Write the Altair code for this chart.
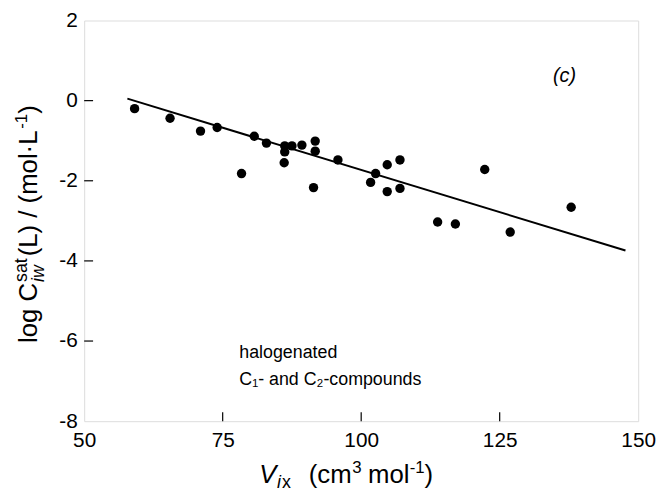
import altair as alt
import pandas as pd

# --- data ---
vix = [59.1, 65.5, 71.0, 74.0, 78.4, 80.7, 82.9, 86.2, 86.2, 87.5, 89.3, 91.7, 91.7,
       86.1, 91.4, 95.8, 104.7, 107.0, 102.6, 101.7, 104.7, 107.0, 113.8, 117.0,
       122.3, 126.9, 137.9]
logc = [-0.20, -0.44, -0.76, -0.67, -1.82, -0.89, -1.06, -1.13, -1.28, -1.13, -1.11,
        -1.01, -1.26, -1.55, -2.17, -1.48, -1.60, -1.48, -1.82, -2.04, -2.27, -2.19,
        -3.03, -3.08, -1.72, -3.28, -2.66]
fit_x = [57.8, 147.7]
fit_y = [0.05, -3.74]
x_ticks = [75, 100, 125]
y_ticks = [0, -2, -4, -6]
x_labels = [50, 75, 100, 125, 150]
y_labels = [2, 0, -2, -4, -6, -8]
notes = ["halogenated", "C\u2081- and C\u2082-compounds"]
note_x = [78, 78]
note_y = [-6.31, -6.97]
panel_label = "(c)"
panel_x = [136.7]
panel_y = [0.62]

W, H = 560, 405
FONT = "Liberation Sans"
FS = 21

pts = pd.DataFrame({"x": vix, "y": logc})
fit = pd.DataFrame({"x": fit_x, "y": fit_y})
xt = pd.DataFrame({"x": x_ticks})
yt = pd.DataFrame({"y": y_ticks})
nt = pd.DataFrame({"x": note_x, "y": note_y, "t": notes})
pl = pd.DataFrame({"x": panel_x, "y": panel_y, "t": [panel_label]})

xs = alt.Scale(domain=[50, 150], nice=False, zero=False)
ys = alt.Scale(domain=[-8, 2], nice=False, zero=False)

xax = alt.Axis(values=x_labels, ticks=False, domain=False, grid=False, title=None,
               labelFont=FONT, labelFontSize=FS, labelColor="black", labelPadding=9,
               labelFlush=False, labelExpr="'' + datum.value")
yax = alt.Axis(values=y_labels, ticks=False, domain=False, grid=False, title=None,
               labelFont=FONT, labelFontSize=FS, labelColor="black", labelPadding=7,
               labelExpr="'' + datum.value")

points = alt.Chart(pts).mark_circle(size=90, color="black", opacity=1).encode(
    x=alt.X("x:Q", scale=xs, axis=xax),
    y=alt.Y("y:Q", scale=ys, axis=yax),
)
line = alt.Chart(fit).mark_line(color="black", strokeWidth=2).encode(
    x=alt.X("x:Q", scale=xs), y=alt.Y("y:Q", scale=ys))

xtick = alt.Chart(xt).mark_rule(color="black", strokeWidth=1.2).encode(
    x=alt.X("x:Q", scale=xs), y=alt.value(H), y2=alt.value(H - 9))
ytick = alt.Chart(yt).mark_rule(color="black", strokeWidth=1.2).encode(
    y=alt.Y("y:Q", scale=ys), x=alt.value(0), x2=alt.value(9))

notes_l = alt.Chart(nt).mark_text(align="left", baseline="middle", font=FONT,
                                  fontSize=18, color="black").encode(
    x=alt.X("x:Q", scale=xs), y=alt.Y("y:Q", scale=ys), text="t:N")
panel = alt.Chart(pl).mark_text(align="center", baseline="middle", font=FONT,
                                fontSize=20, fontStyle="italic", color="black").encode(
    x=alt.X("x:Q", scale=xs), y=alt.Y("y:Q", scale=ys), text="t:N")


def tx(text, x, y, size=FS, style="normal", angle=0, align="left"):
    return alt.Chart(pd.DataFrame({"t": [text]})).mark_text(
        align=align, baseline="alphabetic", font=FONT, fontSize=size,
        fontStyle=style, angle=angle, color="black").encode(
        x=alt.value(x), y=alt.value(y), text="t:N")


# y-axis title, rotated, composed of pieces (reading bottom to top)
TF = 26
SF = 18
bx = -48
cur = 326
parts = []
parts.append(tx("log C", bx, cur, TF, angle=270)); cur -= TF * 2.334 + 1
parts.append(tx("iw", bx + 7, cur, SF, "italic", angle=270))
parts.append(tx("sat", bx - 10, cur, SF, angle=270)); cur -= SF * 1.334 + 2
parts.append(tx(" (L) / (mol\u00b7L", bx, cur, TF, angle=270)); cur -= TF * 5.112 - 4
parts.append(tx("-1", bx - 10, cur, 17, angle=270)); cur -= 17 * 0.889
parts.append(tx(")", bx, cur, TF, angle=270))

# x-axis title
XF = 26
xb = H + 62
x0 = 177
xparts = [
    tx("V", x0, xb, XF, "italic"),
    tx("i", x0 + 18, xb + 6, 18, "italic"),
    tx("x", x0 + 23, xb + 6, 18),
    tx("(cm", x0 + 50, xb, XF),
    tx("3", x0 + 94, xb - 10, 17),
    tx("mol", x0 + 110, xb, XF),
    tx("-1", x0 + 152, xb - 10, 17),
    tx(")", x0 + 167, xb, XF),
]

chart = alt.layer(points, line, xtick, ytick, notes_l, panel, *parts, *xparts).properties(
    width=W, height=H,
    autosize=alt.AutoSizeParams(type="none"),
    padding={"left": 77, "top": 10, "right": 18, "bottom": 74},
).configure_view(stroke="black", strokeWidth=1.5).configure(background="white")

chart.save("out.html", embed_options={"renderer": "svg", "actions": False})
